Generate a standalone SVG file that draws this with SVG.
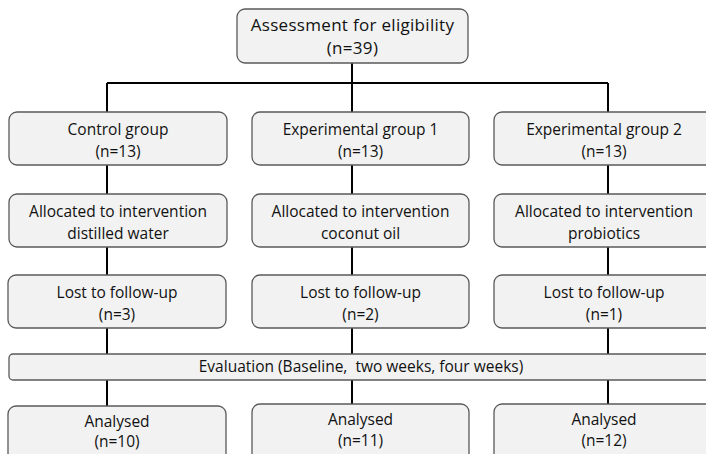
<svg xmlns="http://www.w3.org/2000/svg" width="706" height="454" viewBox="0 0 706 454">
<style>
.box{fill:#f2f2f2;stroke:#595959;stroke-width:1.3}
.t{font-family:"Open Sans","Noto Sans","DejaVu Sans",sans-serif;font-size:15.5px;fill:#111;text-anchor:middle}
.big{font-size:17px;letter-spacing:0.3px}
.c{stroke:#000;stroke-width:2;fill:none}
</style>
<rect width="706" height="454" fill="#fff"/>
<g id="connectors">
<path class="c" d="M352,63V83M107,83H608M107,83V112M352,83V112M608,83V112"/>
<path class="c" d="M107,165V194M352,165V194M608,165V194"/>
<path class="c" d="M107,247V275M352,247V275M608,247V275"/>
<path class="c" d="M107,328V354M352,328V354M608,328V354"/>
<path class="c" d="M107,380V406M352,380V404M608,380V404"/>
</g>
<g id="assessment"><rect class="box" x="237" y="9" width="231" height="54" rx="8"/><text class="t big" x="352.5" y="30.5">Assessment for eligibility</text><text class="t big" x="352.5" y="54">(n=39)</text></g>
<g id="control"><rect class="box" x="9" y="112" width="218" height="53" rx="8"/><text class="t" x="118" y="135">Control group</text><text class="t" x="118" y="157">(n=13)</text></g>
<g id="exp1"><rect class="box" x="252" y="112" width="217" height="53" rx="8"/><text class="t" x="360.5" y="135">Experimental group 1</text><text class="t" x="360.5" y="157">(n=13)</text></g>
<g id="exp2"><rect class="box" x="494" y="112" width="220" height="53" rx="8"/><text class="t" x="604" y="135">Experimental group 2</text><text class="t" x="604" y="157">(n=13)</text></g>
<g id="alloc1"><rect class="box" x="9" y="194" width="218" height="53" rx="8"/><text class="t" x="118" y="217">Allocated to intervention</text><text class="t" x="118" y="239">distilled water</text></g>
<g id="alloc2"><rect class="box" x="252" y="194" width="217" height="53" rx="8"/><text class="t" x="360.5" y="217">Allocated to intervention</text><text class="t" x="360.5" y="239">coconut oil</text></g>
<g id="alloc3"><rect class="box" x="494" y="194" width="220" height="53" rx="8"/><text class="t" x="604" y="217">Allocated to intervention</text><text class="t" x="604" y="239">probiotics</text></g>
<g id="lost1"><rect class="box" x="8" y="275" width="218" height="53" rx="8"/><text class="t" x="117" y="298">Lost to follow-up</text><text class="t" x="117" y="320">(n=3)</text></g>
<g id="lost2"><rect class="box" x="252" y="275" width="217" height="53" rx="8"/><text class="t" x="360.5" y="298">Lost to follow-up</text><text class="t" x="360.5" y="320">(n=2)</text></g>
<g id="lost3"><rect class="box" x="494" y="275" width="220" height="53" rx="8"/><text class="t" x="604" y="298">Lost to follow-up</text><text class="t" x="604" y="320">(n=1)</text></g>
<g id="evaluation"><rect class="box" x="9" y="354" width="705" height="26" rx="4"/><text class="t" x="361" y="372" xml:space="preserve" style="white-space:pre">Evaluation (Baseline,  two weeks, four weeks)</text></g>
<g id="analysed1"><rect class="box" x="8" y="406" width="218" height="60" rx="8"/><text class="t" x="117" y="427">Analysed</text><text class="t" x="117" y="447">(n=10)</text></g>
<g id="analysed2"><rect class="box" x="252" y="404" width="217" height="60" rx="8"/><text class="t" x="360.5" y="425">Analysed</text><text class="t" x="360.5" y="446">(n=11)</text></g>
<g id="analysed3"><rect class="box" x="494" y="404" width="220" height="60" rx="8"/><text class="t" x="604" y="425">Analysed</text><text class="t" x="604" y="446">(n=12)</text></g>
</svg>
